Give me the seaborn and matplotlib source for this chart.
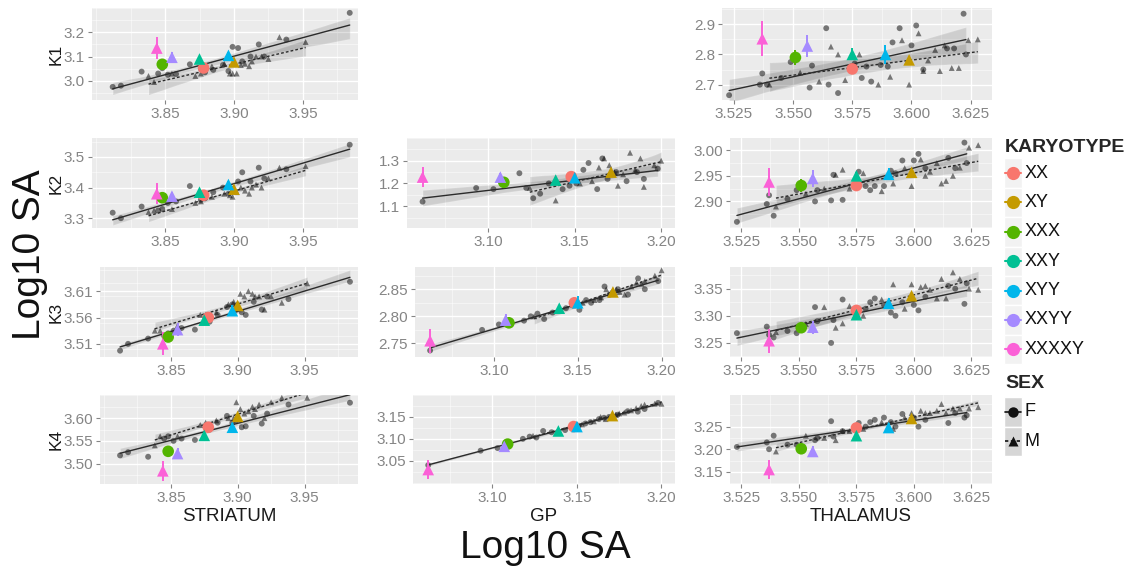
import numpy as np
import pandas as pd
import matplotlib
matplotlib.use("Agg")
import matplotlib.pyplot as plt
from matplotlib.patches import Rectangle
from matplotlib.ticker import MultipleLocator
import seaborn as sns

sns.set_theme(style="darkgrid")
plt.rcParams['font.family'] = ['Liberation Sans', 'DejaVu Sans']

# ---- karyotype groups (mean +/- error) ----
karyotypes = ["XX", "XY", "XXX", "XXY", "XYY", "XXYY", "XXXXY"]
karyo_sex = ["F", "M", "F", "M", "M", "M", "M"]
karyo_colors = ["#F8766D", "#C49A00", "#53B400", "#00C094", "#00B6EB", "#A58AFF", "#FB61D7"]

str_mean_x = [3.878, 3.900, 3.848, 3.875, 3.896, 3.855, 3.844]
gp_mean_x = [3.148, 3.171, 3.109, 3.139, 3.150, 3.107, 3.062]
thal_mean_x = [3.575, 3.599, 3.551, 3.575, 3.589, 3.556, 3.537]

k1_str_mean = [3.053, 3.078, 3.068, 3.090, 3.105, 3.097, 3.135]
k2_str_mean = [3.375, 3.395, 3.367, 3.385, 3.410, 3.372, 3.380]
k3_str_mean = [3.560, 3.583, 3.523, 3.555, 3.573, 3.537, 3.510]
k4_str_mean = [3.580, 3.604, 3.527, 3.562, 3.580, 3.522, 3.484]
k2_gp_mean = [1.230, 1.250, 1.205, 1.215, 1.225, 1.228, 1.228]
k3_gp_mean = [2.825, 2.845, 2.788, 2.815, 2.825, 2.793, 2.755]
k4_gp_mean = [3.128, 3.153, 3.088, 3.118, 3.128, 3.083, 3.030]
k1_thal_mean = [2.752, 2.782, 2.790, 2.800, 2.800, 2.828, 2.852]
k2_thal_mean = [2.931, 2.957, 2.931, 2.950, 2.953, 2.945, 2.938]
k3_thal_mean = [3.310, 3.337, 3.278, 3.302, 3.323, 3.279, 3.254]
k4_thal_mean = [3.247, 3.268, 3.201, 3.230, 3.248, 3.195, 3.155]

k1_str_err = [0.008, 0.012, 0.015, 0.012, 0.015, 0.020, 0.045]
k2_str_err = [0.008, 0.010, 0.012, 0.010, 0.012, 0.015, 0.035]
k3_str_err = [0.005, 0.007, 0.010, 0.008, 0.010, 0.012, 0.022]
k4_str_err = [0.006, 0.007, 0.010, 0.008, 0.010, 0.012, 0.022]
k2_gp_err = [0.010, 0.010, 0.018, 0.012, 0.012, 0.020, 0.045]
k3_gp_err = [0.004, 0.005, 0.010, 0.006, 0.012, 0.012, 0.022]
k4_gp_err = [0.004, 0.005, 0.008, 0.006, 0.010, 0.010, 0.022]
k1_thal_err = [0.010, 0.012, 0.025, 0.020, 0.030, 0.035, 0.058]
k2_thal_err = [0.005, 0.006, 0.012, 0.008, 0.012, 0.017, 0.028]
k3_thal_err = [0.005, 0.005, 0.010, 0.007, 0.010, 0.012, 0.022]
k4_thal_err = [0.005, 0.006, 0.008, 0.008, 0.010, 0.012, 0.022]

# ---- individual subjects (x per region, y per region & K) ----
str_f_x = [3.812, 3.818, 3.833, 3.845, 3.848, 3.852, 3.858, 3.868, 3.876, 3.879, 3.885,
           3.892, 3.896, 3.899, 3.903, 3.906, 3.912, 3.918, 3.922, 3.938, 3.984]
str_m_x = [3.838, 3.842, 3.855, 3.872, 3.876, 3.884, 3.893, 3.897, 3.899, 3.902,
           3.905, 3.908, 3.911, 3.913, 3.916, 3.920, 3.925, 3.933, 3.952]
k1_str_f = [2.975, 2.980, 3.038, 3.030, 3.052, 3.025, 3.028, 3.068, 3.050, 3.035, 3.045,
            3.065, 3.040, 3.140, 3.135, 3.080, 3.100, 3.150, 3.100, 3.170, 3.280]
k1_str_m = [3.020, 2.995, 3.030, 3.020, 3.030, 3.060, 3.070, 3.030, 3.030, 3.030,
            3.065, 3.070, 3.060, 3.080, 3.100, 3.100, 3.090, 3.180, 3.160]
k2_str_f = [3.318, 3.300, 3.338, 3.325, 3.330, 3.350, 3.355, 3.405, 3.360, 3.365, 3.385,
            3.400, 3.380, 3.395, 3.420, 3.450, 3.420, 3.465, 3.430, 3.460, 3.540]
k2_str_m = [3.320, 3.325, 3.330, 3.350, 3.355, 3.370, 3.380, 3.375, 3.370, 3.385,
            3.400, 3.390, 3.380, 3.400, 3.410, 3.400, 3.430, 3.465, 3.470]
k3_str_f = [3.497, 3.510, 3.520, 3.525, 3.530, 3.535, 3.540, 3.537, 3.560, 3.552, 3.565,
            3.580, 3.585, 3.575, 3.570, 3.565, 3.590, 3.575, 3.600, 3.595, 3.628]
k3_str_m = [3.535, 3.535, 3.545, 3.565, 3.565, 3.570, 3.585, 3.590, 3.585, 3.605,
            3.600, 3.610, 3.605, 3.600, 3.600, 3.575, 3.600, 3.588, 3.625]
k4_str_f = [3.518, 3.525, 3.515, 3.555, 3.560, 3.550, 3.555, 3.552, 3.580, 3.575, 3.590,
            3.605, 3.590, 3.595, 3.580, 3.582, 3.605, 3.588, 3.610, 3.630, 3.634]
k4_str_m = [3.540, 3.560, 3.560, 3.585, 3.590, 3.595, 3.600, 3.600, 3.635, 3.620,
            3.610, 3.615, 3.625, 3.620, 3.630, 3.600, 3.635, 3.645, 3.645]

gp_f_x = [3.062, 3.093, 3.103, 3.108, 3.118, 3.122, 3.126, 3.130, 3.135, 3.143, 3.147,
          3.151, 3.155, 3.158, 3.163, 3.166, 3.169, 3.174, 3.180, 3.186, 3.190, 3.198]
gp_m_x = [3.124, 3.139, 3.153, 3.160, 3.164, 3.167, 3.170, 3.173,
          3.175, 3.178, 3.182, 3.185, 3.188, 3.190, 3.196, 3.200]
k2_gp_f = [1.120, 1.180, 1.175, 1.200, 1.245, 1.180, 1.135, 1.155, 1.200, 1.175, 1.190,
           1.200, 1.260, 1.290, 1.175, 1.310, 1.220, 1.250, 1.210, 1.250, 1.220, 1.265]
k2_gp_m = [1.180, 1.125, 1.200, 1.210, 1.270, 1.310, 1.280, 1.250,
           1.190, 1.240, 1.335, 1.260, 1.310, 1.185, 1.280, 1.300]
k3_gp_f = [2.737, 2.775, 2.785, 2.785, 2.792, 2.800, 2.805, 2.795, 2.807, 2.815, 2.820,
           2.812, 2.830, 2.825, 2.830, 2.855, 2.840, 2.850, 2.840, 2.870, 2.850, 2.865]
k3_gp_m = [2.800, 2.812, 2.825, 2.830, 2.835, 2.850, 2.845, 2.850,
           2.845, 2.840, 2.855, 2.862, 2.860, 2.865, 2.875, 2.885]
k4_gp_f = [3.040, 3.073, 3.079, 3.085, 3.100, 3.105, 3.103, 3.118, 3.115, 3.120, 3.125,
           3.130, 3.135, 3.138, 3.145, 3.148, 3.150, 3.155, 3.163, 3.162, 3.168, 3.182]
k4_gp_m = [3.107, 3.120, 3.133, 3.140, 3.150, 3.145, 3.150, 3.155,
           3.158, 3.160, 3.165, 3.170, 3.175, 3.178, 3.180, 3.180]

thal_f_x = [3.523, 3.536, 3.537, 3.539, 3.545, 3.549, 3.557, 3.558, 3.564, 3.565, 3.569,
            3.576, 3.579, 3.581, 3.583, 3.587, 3.590, 3.592, 3.595, 3.600, 3.602,
            3.605, 3.615, 3.618, 3.622, 3.623]
thal_m_x = [3.540, 3.553, 3.561, 3.566, 3.569, 3.572, 3.578, 3.586, 3.591, 3.596, 3.599,
            3.603, 3.605, 3.607, 3.610, 3.612, 3.614, 3.617, 3.620, 3.624, 3.628]
k1_thal_f = [2.665, 2.700, 2.737, 2.700, 2.722, 2.775, 2.690, 2.763, 2.887, 2.700, 2.672,
             2.770, 2.722, 2.760, 2.710, 2.765, 2.760, 2.840, 2.887, 2.830, 2.896,
             2.750, 2.820, 2.820, 2.935, 2.800]
k1_thal_m = [2.700, 2.740, 2.710, 2.826, 2.800, 2.715, 2.800, 2.700, 2.726, 2.847, 2.700,
             2.870, 2.745, 2.780, 2.815, 2.745, 2.830, 2.755, 2.755, 2.847, 2.850]
k2_thal_f = [2.860, 2.895, 2.912, 2.872, 2.905, 2.922, 2.900, 2.922, 2.902, 2.952, 2.903,
             2.958, 2.930, 2.922, 2.930, 2.930, 2.960, 2.955, 2.980, 2.980, 2.993,
             2.965, 2.985, 2.965, 3.015, 2.975]
k2_thal_m = [2.890, 2.915, 2.925, 2.952, 2.962, 2.925, 2.955, 2.920, 2.935, 2.965, 2.930,
             2.982, 2.950, 2.958, 2.975, 2.935, 2.940, 2.950, 2.966, 3.005, 3.010]
k3_thal_f = [3.268, 3.280, 3.265, 3.260, 3.272, 3.268, 3.316, 3.290, 3.250, 3.292, 3.330,
             3.310, 3.313, 3.325, 3.332, 3.320, 3.306, 3.300, 3.325, 3.320, 3.310,
             3.335, 3.355, 3.350, 3.322, 3.360]
k3_thal_m = [3.270, 3.285, 3.316, 3.278, 3.286, 3.318, 3.300, 3.330, 3.358, 3.313, 3.358,
             3.353, 3.355, 3.348, 3.332, 3.368, 3.332, 3.380, 3.368, 3.350, 3.348]
k4_thal_f = [3.205, 3.215, 3.200, 3.230, 3.210, 3.210, 3.220, 3.225, 3.262, 3.228, 3.240,
             3.258, 3.250, 3.260, 3.265, 3.270, 3.260, 3.250, 3.278, 3.270, 3.250,
             3.265, 3.258, 3.280, 3.270, 3.275]
k4_thal_m = [3.195, 3.230, 3.225, 3.220, 3.240, 3.240, 3.245, 3.260, 3.245, 3.270, 3.280,
             3.285, 3.280, 3.280, 3.285, 3.300, 3.280, 3.290, 3.290, 3.290, 3.293]

# ---- axis ticks ----
str_xticks = [3.85, 3.90, 3.95]
gp_xticks = [3.10, 3.15, 3.20]
thal_xticks = [3.525, 3.550, 3.575, 3.600, 3.625]
str_xlabels = ["3.85", "3.90", "3.95"]
gp_xlabels = ["3.10", "3.15", "3.20"]
thal_xlabels = ["3.525", "3.550", "3.575", "3.600", "3.625"]

columns = [
    ("STRIATUM", str_f_x, str_m_x, str_mean_x, str_xticks, str_xlabels, (3.797, 3.990)),
    ("GP", gp_f_x, gp_m_x, gp_mean_x, gp_xticks, gp_xlabels, (3.053, 3.208)),
    ("THALAMUS", thal_f_x, thal_m_x, thal_mean_x, thal_xticks, thal_xlabels, (3.520, 3.634)),
]

# (row, col): f_y, m_y, mean_y, err, yticks, ylabels, ylim
panels = {
    (0, 0): (k1_str_f, k1_str_m, k1_str_mean, k1_str_err, [3.0, 3.1, 3.2], ["3.0", "3.1", "3.2"], (2.921, 3.300)),
    (0, 2): (k1_thal_f, k1_thal_m, k1_thal_mean, k1_thal_err, [2.7, 2.8, 2.9], ["2.7", "2.8", "2.9"], (2.649, 2.954)),
    (1, 0): (k2_str_f, k2_str_m, k2_str_mean, k2_str_err, [3.3, 3.4, 3.5], ["3.3", "3.4", "3.5"], (3.268, 3.562)),
    (1, 1): (k2_gp_f, k2_gp_m, k2_gp_mean, k2_gp_err, [1.1, 1.2, 1.3], ["1.1", "1.2", "1.3"], (1.004, 1.400)),
    (1, 2): (k2_thal_f, k2_thal_m, k2_thal_mean, k2_thal_err, [2.90, 2.95, 3.00], ["2.90", "2.95", "3.00"], (2.848, 3.024)),
    (2, 0): (k3_str_f, k3_str_m, k3_str_mean, k3_str_err, [3.51, 3.56, 3.61], ["3.51", "3.56", "3.61"], (3.485, 3.656)),
    (2, 1): (k3_gp_f, k3_gp_m, k3_gp_mean, k3_gp_err, [2.75, 2.80, 2.85], ["2.75", "2.80", "2.85"], (2.725, 2.891)),
    (2, 2): (k3_thal_f, k3_thal_m, k3_thal_mean, k3_thal_err, [3.25, 3.30, 3.35], ["3.25", "3.30", "3.35"], (3.224, 3.390)),
    (3, 0): (k4_str_f, k4_str_m, k4_str_mean, k4_str_err, [3.50, 3.55, 3.60], ["3.50", "3.55", "3.60"], (3.455, 3.651)),
    (3, 1): (k4_gp_f, k4_gp_m, k4_gp_mean, k4_gp_err, [3.05, 3.10, 3.15], ["3.05", "3.10", "3.15"], (2.997, 3.200)),
    (3, 2): (k4_thal_f, k4_thal_m, k4_thal_mean, k4_thal_err, [3.15, 3.20, 3.25], ["3.15", "3.20", "3.25"], (3.123, 3.320)),
}
row_names = ["K1", "K2", "K3", "K4"]

W, H = 1131, 570
fig = plt.figure(figsize=(W / 100, H / 100), dpi=100)
fig.patch.set_facecolor("white")

# panel left edges shift with the width of the y tick labels (like the original)
left_px = [[92, None, 722], [92, 407, 730], [100, 415, 730], [100, 413, 730]]
right_px = [358, 675, 992]
row_px = [(8, 100), (138, 228), (267, 357), (395, 484)]

tick_color = "#858585"
marker_map = {"F": "o", "M": "^"}
palette = dict(zip(karyotypes, karyo_colors))

for (r, c), (fy, my, mean_y, err, yticks, ylabels, ylim) in panels.items():
    name, fx, mx, mean_x, xticks, xlabels, xlim = columns[c]
    x0, x1 = left_px[r][c], right_px[c]
    y0, y1 = row_px[r]
    ax = fig.add_axes([x0 / W, 1 - y1 / H, (x1 - x0) / W, (y1 - y0) / H])
    ax.set_facecolor("#EBEBEB")

    subj = pd.DataFrame({"x": fx + mx, "y": fy + my,
                         "SEX": ["F"] * len(fx) + ["M"] * len(mx)})
    sns.scatterplot(data=subj, x="x", y="y", style="SEX", markers=marker_map,
                    color="black", alpha=0.5, s=18, linewidth=0, legend=False,
                    ax=ax, zorder=2)

    for sex, ls in [("F", "-"), ("M", (0, (2, 1.5)))]:
        sns.regplot(data=subj[subj.SEX == sex], x="x", y="y", scatter=False,
                    ci=95, seed=1, ax=ax,
                    line_kws=dict(color="#2b2b2b", lw=1.0, ls=ls, zorder=3))

    means = pd.DataFrame({"x": mean_x, "y": mean_y, "err": err,
                          "KARYOTYPE": karyotypes, "SEX": karyo_sex})
    ax.vlines(means.x, means.y - means.err, means.y + means.err,
              colors=karyo_colors, lw=1.4, zorder=4)
    sns.scatterplot(data=means, x="x", y="y", hue="KARYOTYPE", palette=palette,
                    style="SEX", markers=marker_map, s=70, linewidth=0,
                    legend=False, ax=ax, zorder=5)

    ax.set_xlim(*xlim)
    ax.set_ylim(*ylim)
    ax.set_xticks(xticks)
    ax.set_xticklabels(xlabels)
    ax.set_yticks(yticks)
    ax.set_yticklabels(ylabels)
    ax.xaxis.set_minor_locator(MultipleLocator((xticks[1] - xticks[0]) / 2))
    ax.yaxis.set_minor_locator(MultipleLocator((yticks[1] - yticks[0]) / 2))
    ax.grid(which="major", color="white", lw=1.0)
    ax.grid(which="minor", color="white", lw=0.5, alpha=0.7)
    for s in ax.spines.values():
        s.set_visible(False)
    ax.tick_params(axis="both", which="major", labelsize=11, colors=tick_color,
                   length=3, width=0.8, pad=2, direction="out", bottom=True, left=True)
    ax.tick_params(which="minor", length=0)
    ax.set_xlabel(name if r == 3 else "", fontsize=13.5, color="#1a1a1a", labelpad=2)
    ax.set_ylabel(row_names[r] if c == 0 else "", fontsize=12.5, color="#1a1a1a")
    if c == 0:
        ax.yaxis.set_label_coords(-(x0 - 64) / (x1 - x0), 0.5)

# ---- overlay for legend and outer labels ----
lax = fig.add_axes([0, 0, 1, 1], facecolor="none")
lax.set_xlim(0, W)
lax.set_ylim(H, 0)
lax.axis("off")

lax.text(30, 255, "Log10 SA", rotation=90, fontsize=28, ha="center", va="center", color="#111111")
lax.text(545, 548, "Log10 SA", fontsize=28, ha="center", va="center", color="#111111")

lax.text(1005, 147, "KARYOTYPE", fontsize=14, fontweight="bold", ha="left", va="center")
step = 29.4
for i, (k, col) in enumerate(zip(karyotypes, karyo_colors)):
    yc = 173 + i * step
    lax.add_patch(Rectangle((1004, yc - step / 2), 18, step, facecolor="#F2F2F2",
                            edgecolor="white", lw=1))
    lax.plot([1005, 1021], [yc, yc], color=col, lw=1.5)
    lax.plot([1013], [yc], marker="o", ms=9.5, color=col, mec="none")
    lax.text(1025, yc, k, fontsize=13, ha="left", va="center", color="#111111")

lax.text(1005, 383, "SEX", fontsize=14, fontweight="bold", ha="left", va="center")
for i, (sex, ls) in enumerate([("F", "-"), ("M", (0, (2, 1.5)))]):
    yc = 412 + i * step
    lax.add_patch(Rectangle((1004, yc - step / 2), 18, step, facecolor="#D6D6D6",
                            edgecolor="white", lw=1))
    lax.plot([1005, 1021], [yc, yc], color="#111111", lw=1.2, ls=ls)
    lax.plot([1013], [yc], marker=marker_map[sex], ms=7.5, color="#111111", mec="none")
    lax.text(1025, yc, sex, fontsize=13, ha="left", va="center", color="#111111")

fig.savefig("out.png", dpi=100)
